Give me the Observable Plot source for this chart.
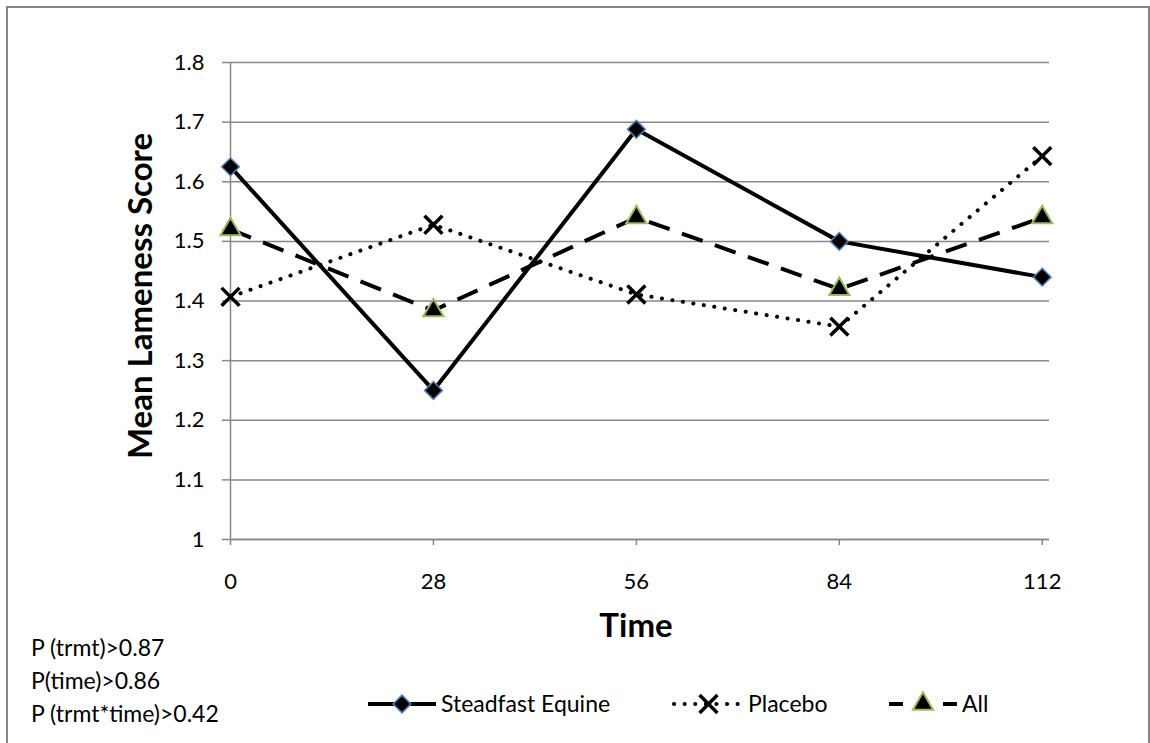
<!DOCTYPE html>
<html>
<head>
<meta charset="utf-8">
<script src="https://cdn.jsdelivr.net/npm/d3@7"></script>
<script src="https://cdn.jsdelivr.net/npm/@observablehq/plot@0.6"></script>
<style>
  html, body { margin: 0; padding: 0; background: white; }
  #chart { position: relative; width: 1150px; height: 743px; overflow: hidden; }
</style>
</head>
<body>
<div id="chart"></div>
<script>
// ---- data ----
const days = [0, 28, 56, 84, 112];
const steadfast = [1.625, 1.25, 1.688, 1.5, 1.44];
const placebo = [1.407, 1.528, 1.411, 1.357, 1.643];
const allGroup = [1.52, 1.384, 1.54, 1.42, 1.54];
const seriesNames = ["Steadfast Equine", "Placebo", "All"];
const yTicks = [1, 1.1, 1.2, 1.3, 1.4, 1.5, 1.6, 1.7, 1.8];
const yTickLabels = ["1", "1.1", "1.2", "1.3", "1.4", "1.5", "1.6", "1.7", "1.8"];
const xTickLabels = ["0", "28", "56", "84", "112"];
const pValueNotes = ["P (trmt)>0.87", "P(time)>0.86", "P (trmt*time)>0.42"];
const xTitle = "Time";
const yTitle = "Mean Lameness Score";

const toRows = (vals, name) => days.map((d, i) => ({day: d, value: vals[i], series: name}));
const rowsS = toRows(steadfast, seriesNames[0]);
const rowsP = toRows(placebo, seriesNames[1]);
const rowsA = toRows(allGroup, seriesNames[2]);

const gridColor = "#878787";
const blue = "#4f81bd";
const green = "#9bbb59";
const FONT = "Lato, 'Open Sans', sans-serif";

const plot = Plot.plot({
  width: 1150,
  height: 743,
  marginLeft: 230,
  marginRight: 101,
  marginTop: 62,
  marginBottom: 204,
  x: {domain: [0, 113], ticks: days},
  y: {domain: [1, 1.8], ticks: yTicks},
  style: {fontFamily: FONT, fontSize: "22px", color: "black", background: "white"},
  marks: [
    Plot.gridY(yTicks, {stroke: gridColor, strokeOpacity: 1, strokeWidth: 1.5}),
    Plot.ruleX([0], {stroke: gridColor, strokeWidth: 1.5}),
    Plot.ruleY([1], {stroke: gridColor, strokeWidth: 1.5}),
    Plot.axisY({ticks: yTicks, tickSize: 8, tickPadding: 18, stroke: gridColor, strokeWidth: 1.5,
      tickFormat: (d) => yTickLabels[yTicks.indexOf(d)], label: null, fontSize: 22}),
    Plot.axisX({ticks: days, tickSize: 6, tickPadding: 28, stroke: gridColor, strokeWidth: 1.5,
      tickFormat: d => xTickLabels[days.indexOf(d)], label: null, fontSize: 22}),
    Plot.line(rowsS, {x: "day", y: "value", stroke: "black", strokeWidth: 4}),
    Plot.line(rowsP, {x: "day", y: "value", stroke: "black", strokeWidth: 4,
      strokeDasharray: "0.1 10.5", strokeLinecap: "round"}),
    Plot.line(rowsA, {x: "day", y: "value", stroke: "black", strokeWidth: 4,
      strokeDasharray: "22 13", strokeLinecap: "butt"}),
    Plot.dot(rowsS, {x: "day", y: "value", symbol: "diamond2", r: 8, fill: "black", stroke: blue, strokeWidth: 1.5}),
    Plot.dot(rowsP, {x: "day", y: "value", symbol: "times", r: 8.2, fill: "none", stroke: "black", strokeWidth: 3.5}),
    Plot.dot(rowsA, {x: "day", y: "value", symbol: "triangle", r: 7.5, fill: "black", stroke: green, strokeWidth: 2}),
    Plot.text([yTitle], {text: d => d, frameAnchor: "left", textAnchor: "middle", dx: -89, dy: -5, rotate: -90,
      fontSize: 33, fontWeight: "bold", fill: "black"}),
    Plot.text([xTitle], {text: d => d, frameAnchor: "bottom", textAnchor: "middle", dx: -4, dy: 87, lineAnchor: "middle",
      fontSize: 33, fontWeight: "bold", fill: "black"})
  ]
});

const svg = d3.select(plot);
// outer chart-area border
svg.append("path")
  .attr("d", "M7,743V7H1149V743")
  .attr("fill", "none").attr("stroke", "#868686").attr("stroke-width", 2);

// P-value notes
svg.append("g").attr("text-anchor", "start").selectAll("text").data(pValueNotes).join("text")
  .attr("x", 31).attr("y", (d, i) => 656 + i * 33)
  .attr("text-anchor", "start")
  .attr("font-family", FONT).attr("font-size", 23).attr("fill", "black")
  .text(d => d);

// legend
const legY = 704;
const leg = svg.append("g").attr("font-family", FONT).attr("font-size", 23).attr("text-anchor", "start");
const items = [
  {name: seriesNames[0], x0: 368, x1: 436, dash: null, cap: "butt", symbol: d3.symbolDiamond2, fill: "black", stroke: blue, sw: 1.5, size: Math.PI * 8 * 8},
  {name: seriesNames[1], x0: 674, x1: 743, dash: "0.1 10.5", cap: "round", symbol: d3.symbolTimes, fill: "none", stroke: "black", sw: 3.5, size: Math.PI * 8.2 * 8.2},
  {name: seriesNames[2], x0: 889, x1: 957, dash: "14 40", cap: "butt", symbol: d3.symbolTriangle, fill: "black", stroke: green, sw: 2, size: Math.PI * 7.5 * 7.5}
];
items.forEach(it => {
  const g = leg.append("g");
  const ln = g.append("line").attr("x1", it.x0).attr("x2", it.x1).attr("y1", legY).attr("y2", legY)
    .attr("stroke", "black").attr("stroke-width", 4).attr("stroke-linecap", it.cap);
  if (it.dash) ln.attr("stroke-dasharray", it.dash);
  const cx = (it.x0 + it.x1) / 2;
  g.append("path").attr("d", d3.symbol(it.symbol, it.size)())
    .attr("transform", `translate(${cx},${legY})`)
    .attr("fill", it.fill).attr("stroke", it.stroke).attr("stroke-width", it.sw);
  g.append("text").attr("x", it.x1 + 5).attr("y", legY).attr("dy", "0.35em")
    .attr("text-anchor", "start").attr("fill", "black").text(it.name);
});

document.getElementById("chart").appendChild(plot);
</script>
</body>
</html>
